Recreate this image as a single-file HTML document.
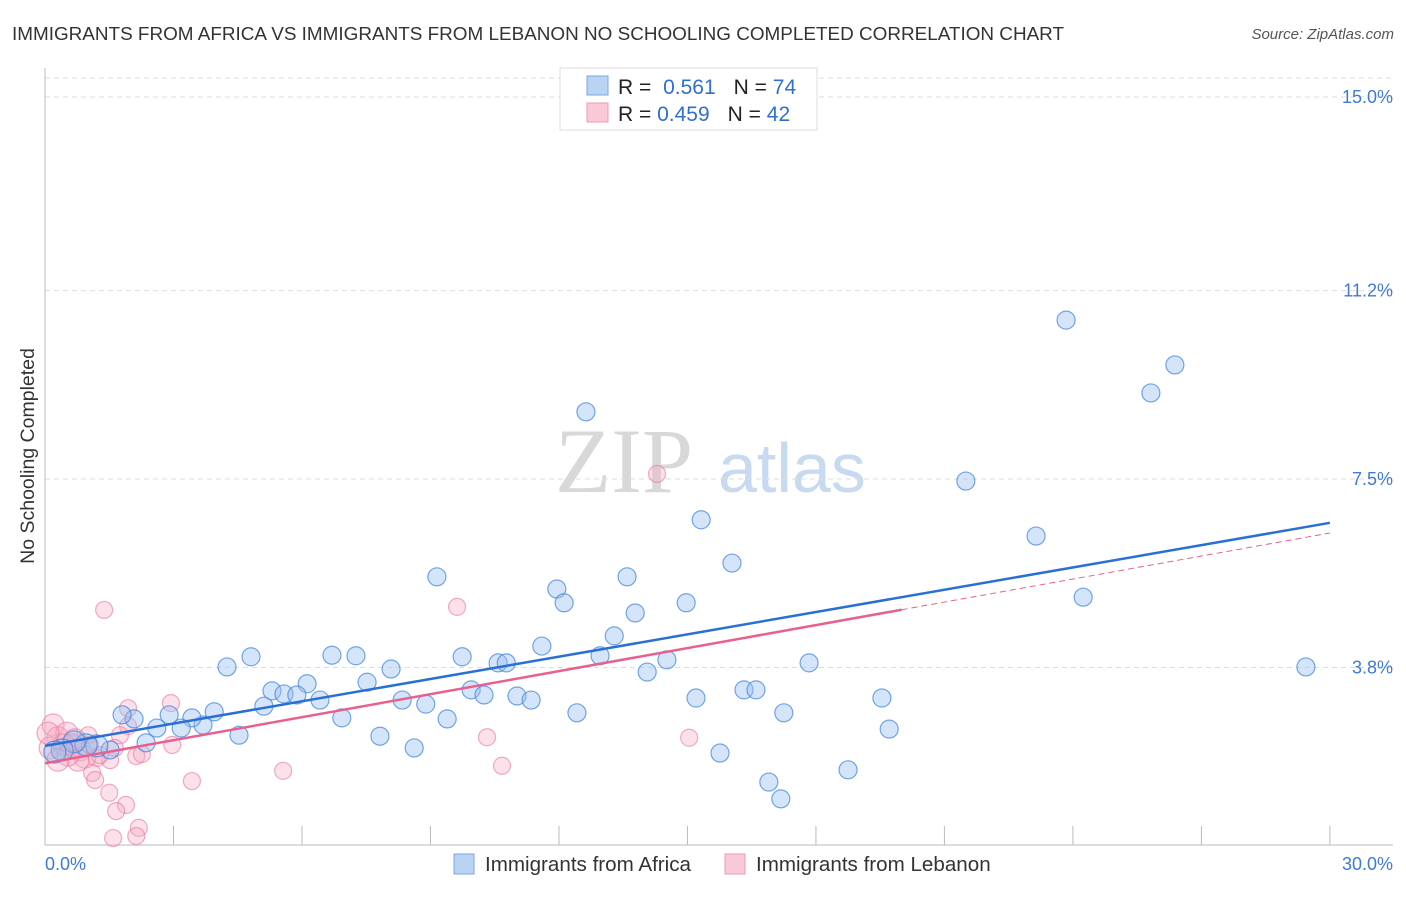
<!DOCTYPE html>
<html><head><meta charset="utf-8"><style>
body{margin:0;background:#fff;font-family:"Liberation Sans",sans-serif;}
</style></head><body>
<svg id="chart" width="1406" height="892" xmlns="http://www.w3.org/2000/svg" font-family="Liberation Sans, sans-serif">
<text x="12" y="40" font-size="18.9" fill="#333">IMMIGRANTS FROM AFRICA VS IMMIGRANTS FROM LEBANON NO SCHOOLING COMPLETED CORRELATION CHART</text>
<text x="1394" y="39" font-size="15" fill="#555" text-anchor="end" font-style="italic">Source: ZipAtlas.com</text>
<text x="34" y="456" font-size="19.5" fill="#333" text-anchor="middle" transform="rotate(-90 34 456)">No Schooling Completed</text>
<text x="555" y="492" font-size="92" fill="#d8d8d8" font-family="Liberation Serif, serif">ZIP</text>
<text x="718" y="492" font-size="70" fill="#c8daf0">atlas</text>
<g id="grid"></g>
<g id="pinkpts"></g>
<g id="bluepts"></g>
<g id="lines"></g>
<g>
<rect x="560" y="68" width="257" height="62" fill="#fff" stroke="#ddd"/>
<rect x="587" y="76" width="21" height="19" fill="#b9d3f3" stroke="#7aa7e0"/>
<rect x="587" y="103" width="21" height="19" fill="#f9c9d7" stroke="#ee9ab3"/>
<text x="618" y="94" font-size="21" fill="#222">R = <tspan fill="#2f6fd0" dx="6">0.561</tspan><tspan dx="18">N = </tspan><tspan fill="#2f6fd0">74</tspan></text>
<text x="618" y="121" font-size="21" fill="#222">R = <tspan fill="#2f6fd0">0.459</tspan><tspan dx="18">N = </tspan><tspan fill="#2f6fd0">42</tspan></text>
</g>
<g>
<rect x="454" y="854" width="20" height="20" fill="#b9d3f3" stroke="#7aa7e0"/>
<text x="485" y="871" font-size="20.6" fill="#333">Immigrants from Africa</text>
<rect x="725" y="854" width="20" height="20" fill="#f9c9d7" stroke="#ee9ab3"/>
<text x="756" y="871" font-size="20.6" fill="#333">Immigrants from Lebanon</text>
</g>
</svg>
<script>
const yTicks=[15.0,11.2,7.5,3.8];
const yTickLabels=["15.0%","11.2%","7.5%","3.8%"];
const xTickLabels=["0.0%","30.0%"];
const blueX=[23.84,26.38,25.82,12.63,21.50,15.32,23.14,16.04,9.15,13.59,11.95,12.12,14.97,24.24,13.78,13.29,11.60,12.96,14.52,14.06,17.84,29.44,9.74,10.58,10.77,8.08,6.70,7.26,4.81,4.25,7.52,6.12,5.30,5.58,5.88,6.42,5.11,3.95,6.93,8.34,8.89,9.95,10.25,11.02,11.35,9.39,12.42,15.20,16.32,16.60,19.54,17.25,19.71,15.76,16.90,17.18,18.75,8.62,7.82,4.53,3.69,3.43,3.18,2.90,2.61,2.36,2.08,1.80,1.52,1.21,0.96,0.68,0.40,0.23];
const blueY=[10.62,9.74,9.19,8.82,7.46,6.70,6.38,5.85,5.58,5.58,5.34,5.07,5.07,5.18,4.87,4.42,4.22,4.03,3.95,3.71,3.89,3.81,4.01,3.89,3.89,3.77,4.04,4.03,4.01,3.81,3.51,3.48,3.34,3.28,3.26,3.16,3.04,2.93,2.81,3.16,3.08,3.36,3.26,3.24,3.16,2.79,2.91,3.20,3.36,3.36,3.20,2.91,2.59,2.12,1.55,1.22,1.79,2.22,2.45,2.47,2.67,2.81,2.61,2.87,2.61,2.32,2.79,2.87,2.18,2.26,2.28,2.34,2.18,2.14];
const pinkX=[14.29,1.38,9.62,2.94,1.94,10.32,15.04,10.67,5.56,3.43,2.97,1.94,1.75,2.13,1.01,1.52,1.21,1.10,1.17,1.50,1.89,1.66,2.19,1.59,2.13,0.19,0.30,0.51,0.63,0.82,0.44,0.12,0.93,0.77,0.54,1.28,0.30,0.07,2.26,1.63,0.70,1.05];
const pinkY=[7.60,4.93,4.99,3.10,3.00,2.43,2.42,1.87,1.77,1.57,2.28,2.65,2.47,2.06,2.47,1.98,2.02,1.73,1.59,1.34,1.10,0.98,0.65,0.45,0.49,2.67,2.42,2.51,2.28,2.18,2.28,2.22,2.04,1.98,2.08,2.08,1.98,2.51,2.10,2.22,2.38,2.28];
const blueTrend=[2.26,6.64];
const pinkTrend=[1.92,6.44];
const pinkSolidEnd=20;
const X=v=>45+v*42.83, Y=v=>861-v*50.93;
const NS="http://www.w3.org/2000/svg";
function mk(t,a,p){const e=document.createElementNS(NS,t);for(const k in a)e.setAttribute(k,a[k]);p.appendChild(e);return e;}
const grid=document.getElementById('grid');
mk('line',{x1:45,y1:78,x2:1393,y2:78,stroke:'#ddd','stroke-dasharray':'5,4'},grid);
yTicks.forEach((t,i)=>{
 const l=mk('line',{x1:45,y1:Y(t),x2:1393,y2:Y(t),stroke:'#ddd','stroke-dasharray':'5,4'},grid);
 
 
 const tx=mk('text',{x:1393,y:Y(t)+6,'font-size':18,fill:'#3f7ad6','text-anchor':'end'},grid);
 tx.textContent=yTickLabels[i];
 
 
});
mk('line',{x1:45,y1:68,x2:45,y2:845,stroke:'#bbb'},grid);
mk('line',{x1:45,y1:845,x2:1393,y2:845,stroke:'#bbb'},grid);
for(let i=1;i<=10;i++){mk('line',{x1:X(i*3),y1:826,x2:X(i*3),y2:845,stroke:'#bbb'},grid);}
[[0,'start',45],[1,'end',1393]].forEach(([i,a,x])=>{
 const tx=mk('text',{x:x,y:870,'font-size':18,fill:'#3f7ad6','text-anchor':a},grid);
 tx.textContent=xTickLabels[i];
 
 
});
const pg=document.getElementById('pinkpts');
pinkX.forEach((x,i)=>{
 const c=mk('circle',{cx:X(x),cy:Y(pinkY[i]),r:x<1?11:8.5,fill:'rgba(246,170,195,0.35)',stroke:'rgba(232,120,155,0.6)','stroke-width':1.2},pg);
 
 
});
const bg=document.getElementById('bluepts');
blueX.forEach((x,i)=>{
 const c=mk('circle',{cx:X(x),cy:Y(blueY[i]),r:x<1.5?11:9,fill:'rgba(150,190,240,0.4)',stroke:'rgba(60,130,220,0.7)','stroke-width':1.2},bg);
 
 
});
const lg=document.getElementById('lines');
const ps=(pinkTrend[1]-pinkTrend[0])/30;
const pl=mk('line',{x1:X(0),y1:Y(pinkTrend[0]),x2:X(pinkSolidEnd),y2:Y(pinkTrend[0]+ps*pinkSolidEnd),stroke:'#e8608e','stroke-width':2.5},lg);


const pd=mk('line',{x1:X(pinkSolidEnd),y1:Y(pinkTrend[0]+ps*pinkSolidEnd),x2:X(30),y2:Y(pinkTrend[1]),stroke:'#e8608e','stroke-width':1,'stroke-dasharray':'6,4'},lg);


const bl=mk('line',{x1:X(0),y1:Y(blueTrend[0]),x2:X(30),y2:Y(blueTrend[1]),stroke:'#2a6fd6','stroke-width':2.5},lg);


</script>
</body></html>
